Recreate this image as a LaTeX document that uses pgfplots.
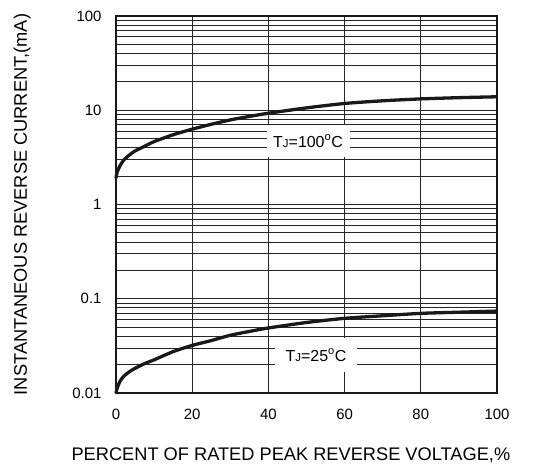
\documentclass[border=0pt]{standalone}
\usepackage{fontspec}
\setmainfont{Liberation Sans}
\usepackage{pgfplots}
\pgfplotsset{compat=1.18}
\begin{document}
\begin{tikzpicture}
\begin{axis}[
  width=381bp, height=377bp, scale only axis,
  xmin=0, xmax=100, ymode=log, ymin=0.01, ymax=100,
  xtick={0,20,40,60,80,100},
  ytick={0.01,0.1,1,10,100}, yticklabels={0.01,0.1,1,10,100},
  minor ytick={0.02,0.03,0.04,0.05,0.06,0.07,0.08,0.09,0.2,0.3,0.4,0.5,0.6,0.7,0.8,0.9,2,3,4,5,6,7,8,9,20,30,40,50,60,70,80,90},
  grid=both,
  major grid style={black!85, line width=0.9bp},
  minor grid style={black!85, line width=0.9bp},
  axis line style={line width=2bp, black!90},
  major tick length=0pt, minor tick length=0pt,
  /pgf/number format/assume math mode=true,
  ticklabel style={font=\fontsize{15}{17}\selectfont},
  xticklabel style={yshift=-12.5bp},
  yticklabel style={xshift=-11bp},
  xlabel={PERCENT OF RATED PEAK REVERSE VOLTAGE,\%},
  ylabel={INSTANTANEOUS REVERSE CURRENT,(mA)},
  label style={font=\fontsize{18.3}{20}\selectfont},
  xlabel style={at={(axis description cs:0.459,-0.166)}, anchor=center},
  ylabel style={at={(axis description cs:-0.246,0.5)}, anchor=center},
  clip=false,
]
\addplot[line width=3.3bp, black!90, smooth, tension=0.4] coordinates {
(0,1.9) (0.3,2.2) (1,2.55) (2,2.95) (3.5,3.35) (5,3.7) (7.5,4.15) (10,4.65) (15,5.5) (20,6.3) (25,7.1) (30,7.9) (35,8.6) (40,9.3) (50,10.6) (60,11.8) (70,12.6) (80,13.2) (90,13.6) (100,13.9)
};
\addplot[line width=3.3bp, black!90, smooth, tension=0.4] coordinates {
(0,0.0100) (0.3,0.0112) (1,0.0132) (2,0.015) (3.5,0.0168) (5,0.0183) (7.5,0.0205) (10,0.0225) (15,0.0275) (20,0.032) (25,0.036) (30,0.041) (35,0.045) (40,0.049) (50,0.056) (60,0.062) (70,0.066) (80,0.070) (90,0.072) (100,0.074)
};
\node[fill=white, minimum width=83bp, minimum height=32bp, inner sep=0pt, font=\fontsize{16}{18}\selectfont] at (axis cs:50.4,4.7) {T{\fontsize{11.5}{12}\selectfont J}=100\textsuperscript{o}C};
\node[fill=white, minimum width=82bp, minimum height=34bp, inner sep=0pt, font=\fontsize{16}{18}\selectfont] at (axis cs:52.5,0.0253) {T{\fontsize{11.5}{12}\selectfont J}=25\textsuperscript{o}C};
\end{axis}
\path (current axis.south west) ++(-116bp,-72bp) coordinate (bbA);
\path (current axis.north east) ++(39bp,16bp) coordinate (bbB);
\path[draw=none] (bbA) rectangle (bbB);
\end{tikzpicture}
\end{document}
